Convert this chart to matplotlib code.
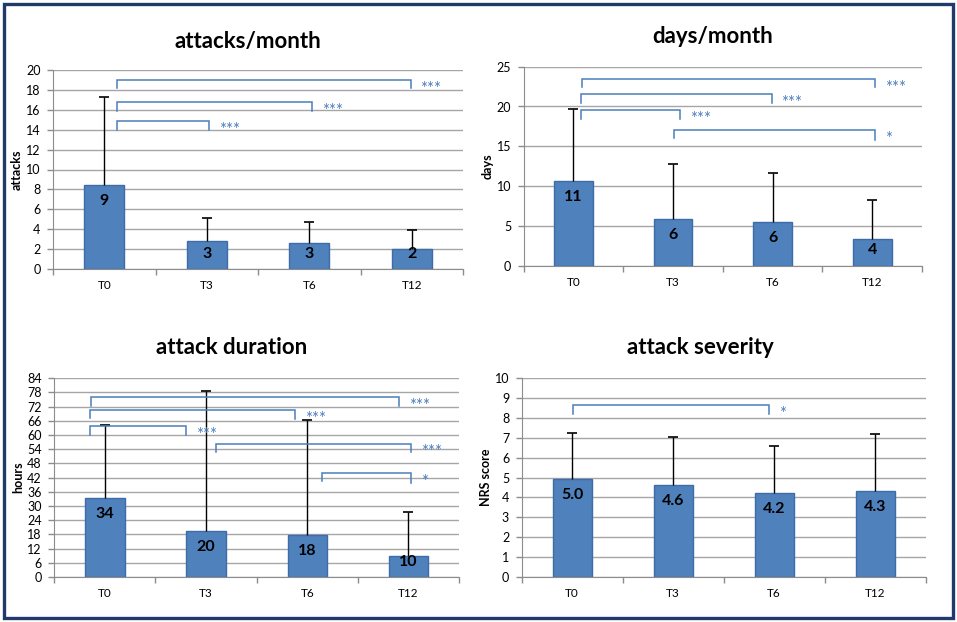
import numpy as np
import matplotlib
matplotlib.use('Agg')
import matplotlib.pyplot as plt
from matplotlib.patches import Rectangle

plt.rcParams['font.family'] = ['Lato', 'DejaVu Sans']

times = ['T0', 'T3', 'T6', 'T12']

# attacks per month
attacks_mean = [8.45, 2.8, 2.6, 2.0]
attacks_sd = [8.85, 2.3, 2.15, 1.95]
attacks_lbl = ['9', '3', '3', '2']
# significance brackets: x start, x end, top, left leg end, right leg end, text
attacks_sig = [(0.12, 2.99, 19.0, 18.2, 18.2, '***'),
               (0.12, 2.03, 16.8, 15.9, 15.9, '***'),
               (0.12, 1.02, 14.9, 14.0, 14.0, '***')]

# days per month
days_mean = [10.6, 5.9, 5.45, 3.4]
days_sd = [9.1, 6.9, 6.25, 4.8]
days_lbl = ['11', '6', '6', '4']
days_sig = [(0.09, 3.03, 23.5, 22.4, 22.4, '***'),
            (0.08, 1.99, 21.6, 20.5, 20.5, '***'),
            (0.08, 1.07, 19.5, 18.4, 18.4, '***'),
            (1.006, 3.03, 17.0, 16.0, 15.8, '*')]

# attack duration (hours)
dur_mean = [33.5, 19.6, 17.6, 9.0]
dur_sd = [30.6, 59.0, 48.8, 18.6]
dur_lbl = ['34', '20', '18', '10']
dur_sig = [(-0.14, 2.91, 76.0, 72.5, 72.5, '***'),
           (-0.15, 1.88, 70.6, 67.1, 66.7, '***'),
           (-0.15, 0.80, 63.7, 60.0, 60.0, '***'),
           (1.10, 3.03, 56.4, 53.0, 52.7, '***'),
           (2.15, 3.03, 44.1, 40.7, 39.9, '*')]

# attack severity (NRS)
sev_mean = [4.9, 4.6, 4.2, 4.3]
sev_sd = [2.34, 2.44, 2.39, 2.89]
sev_lbl = ['5.0', '4.6', '4.2', '4.3']
sev_sig = [(0.01, 1.95, 8.64, 8.2, 8.2, '*')]

W, H = 957, 622
fig = plt.figure(figsize=(W / 100, H / 100), dpi=100)

bar_col = '#4F81BD'
edge_col = '#3D6CA8'
sig_col = '#4A7EBB'
grey = '#8C8C8C'


def add_axes_px(l, t, r, b):
    return fig.add_axes([l / W, 1 - b / H, (r - l) / W, (b - t) / H])


def panel(box, title, title_xy, ylabel, means, sds, lbls, sig, ymax, ystep):
    ax = add_axes_px(*box)
    x = np.arange(len(times))
    ax.bar(x, means, width=0.39, color=bar_col, edgecolor=edge_col, lw=1, zorder=2)
    eb = ax.errorbar(x, means, yerr=[np.zeros(len(sds)), sds], fmt='none',
                     ecolor='black', elinewidth=1, capsize=3.5, capthick=1.2, zorder=3)
    eb[1][0].set_visible(False)  # no cap at the bar top
    ax.set_xlim(-0.5, len(times) - 0.5)
    ax.set_ylim(0, ymax)
    ax.set_yticks(np.arange(0, ymax + 0.01, ystep))
    ax.set_xticks(x)
    ax.set_xticklabels(times)
    ax.set_xticks(np.arange(-0.5, len(times), 1), minor=True)
    ax.tick_params(axis='x', which='major', length=0, pad=8, labelsize=8.5)
    ax.tick_params(axis='x', which='minor', length=4, color=grey, width=1, direction='out')
    ax.tick_params(axis='y', length=4, color=grey, width=1, direction='out', pad=5, labelsize=9)
    ax.set_axisbelow(True)
    ax.yaxis.grid(True, color='#A6A6A6', lw=1)
    for s in ['top', 'right']:
        ax.spines[s].set_visible(False)
    for s in ['left', 'bottom']:
        ax.spines[s].set_color(grey)
    ax.set_ylabel(ylabel, fontsize=9, fontweight='bold')
    ax.yaxis.set_label_coords(-30 / (box[2] - box[0]), 0.5)

    # value labels inside the bars
    for i, (m, t) in enumerate(zip(means, lbls)):
        y0 = ax.transData.transform((i, 0))[1]
        y1 = ax.transData.transform((i, m))[1]
        off = max(y1 - y0 - 16, 15.5)
        ax.annotate(t, xy=(i, 0), xytext=(0, off * 72 / fig.dpi), textcoords='offset points',
                    ha='center', va='center', fontsize=11.5, fontweight='bold', zorder=4)

    # significance brackets
    for x0, x1, yt, yl, yr, txt in sig:
        ax.plot([x0, x0, x1, x1], [yl, yt, yt, yr], color=sig_col, lw=1.1, zorder=3,
                solid_joinstyle='miter')
        ax.annotate(txt, xy=(x1, yt), xytext=(7, -10), textcoords='offset points',
                    ha='left', va='baseline', fontsize=12, color=sig_col)

    fig.text(title_xy[0] / W, 1 - title_xy[1] / H, title, ha='center', va='baseline',
             fontsize=16, fontweight='bold')
    return ax


panel((53, 70, 463, 269), 'attacks/month', (248, 48), 'attacks',
      attacks_mean, attacks_sd, attacks_lbl, attacks_sig, 20, 2)
panel((523.7, 66.7, 922, 265.7), 'days/month', (713, 43), 'days',
      days_mean, days_sd, days_lbl, days_sig, 25, 5)
panel((54.3, 378.3, 459, 577), 'attack duration', (232, 354), 'hours',
      dur_mean, dur_sd, dur_lbl, dur_sig, 84, 6)
panel((521.7, 378.3, 925.7, 576.7), 'attack severity', (700, 354), 'NRS score',
      sev_mean, sev_sd, sev_lbl, sev_sig, 10, 1)

# outer frame
fig.patches.append(Rectangle((3.5 / W, 4.5 / H), 949 / W, 614 / H, transform=fig.transFigure,
                             fill=False, edgecolor='#1F3A6B', lw=2.4))

fig.savefig('out.png', dpi=100)
